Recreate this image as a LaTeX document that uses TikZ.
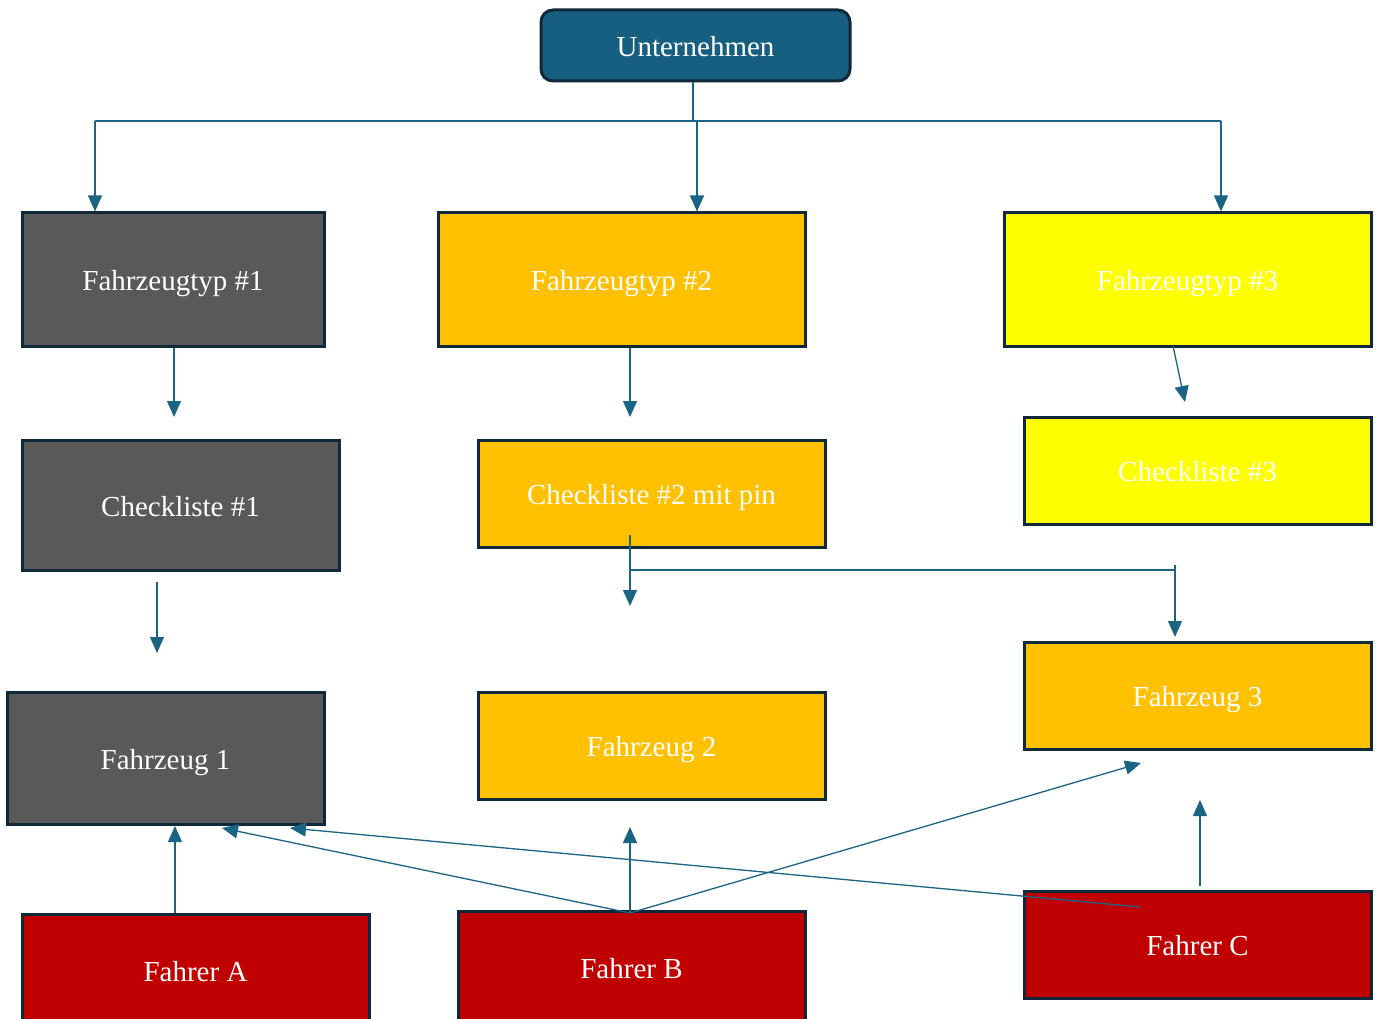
\documentclass[tikz,border=0pt]{standalone}
\usepackage{fontspec}
\setmainfont{Liberation Serif}
\usetikzlibrary{arrows.meta,calc}
\definecolor{cTeal}{HTML}{175F80}
\definecolor{cLine}{HTML}{1C6485}
\definecolor{cBorder}{HTML}{10293A}
\definecolor{cGray}{HTML}{595959}
\definecolor{cOrange}{HTML}{FFC000}
\definecolor{cYellow}{HTML}{FFFF00}
\definecolor{cRed}{HTML}{C00000}
\begin{document}
\begin{tikzpicture}[x=1pt,y=-1pt,
  box/.style={draw=cBorder,line width=3pt,inner sep=0pt,text=white,
    font=\fontsize{29}{34}\selectfont,anchor=center,text height=22pt,text depth=0pt},
  conn/.style={draw=cLine,line width=1.3pt},
  arr/.style={conn,-{Triangle[length=16pt,width=14pt]}}]
\useasboundingbox (0,0) rectangle (1376,1019);
\fill[white] (0,0) rectangle (1376,1019);
% nodes
\node[box,fill=cTeal,rounded corners=12pt,minimum width=309pt,minimum height=71pt] (un) at (695.5,45.5) {Unternehmen};
\node[box,fill=cGray,minimum width=302pt,minimum height=133pt] (ft1) at (173,279.5) {Fahrzeugtyp \#1};
\node[box,fill=cOrange,minimum width=367pt,minimum height=133pt] (ft2) at (621.5,279.5) {Fahrzeugtyp \#2};
\node[box,fill=cYellow,minimum width=367pt,minimum height=133pt] (ft3) at (1187.5,279.5) {Fahrzeugtyp \#3};
\node[box,fill=cGray,minimum width=317pt,minimum height=130pt] (ck1) at (180.5,505) {Checkliste \#1};
\node[box,fill=cOrange,minimum width=347pt,minimum height=107pt] (ck2) at (651.5,493.5) {Checkliste \#2 mit pin};
\node[box,fill=cYellow,minimum width=347pt,minimum height=107pt] (ck3) at (1197.5,470.5) {Checkliste \#3};
\node[box,fill=cGray,minimum width=317pt,minimum height=132pt] (fz1) at (165.5,758) {Fahrzeug 1};
\node[box,fill=cOrange,minimum width=347pt,minimum height=107pt] (fz2) at (651.5,745.5) {Fahrzeug 2};
\node[box,fill=cOrange,minimum width=347pt,minimum height=107pt] (fz3) at (1197.5,695.5) {Fahrzeug 3};
\node[box,fill=cRed,minimum width=347pt,minimum height=112pt] (fa) at (195.5,970) {Fahrer A};
\node[box,fill=cRed,minimum width=347pt,minimum height=112pt] (fb) at (631.5,967) {Fahrer B};
\node[box,fill=cRed,minimum width=347pt,minimum height=107pt] (fc) at (1197.5,944.5) {Fahrer C};
% coordinates
\coordinate (u0) at (693,121);
\coordinate (h1) at (95,121);
\coordinate (h2) at (1221,121);
\coordinate (h3) at (697,121);
\coordinate (a1) at (174,417);
\coordinate (a2) at (630,417);
\coordinate (a3s) at (1173,346);
\coordinate (a3) at (1185,402);
\coordinate (b1s) at (157,582);
\coordinate (b1) at (157,653);
\coordinate (b2s) at (630,535);
\coordinate (b2) at (630,606);
\coordinate (b2h) at (630,570);
\coordinate (b3h) at (1175,570);
\coordinate (b3t) at (1175,565);
\coordinate (b3) at (1175,637);
\coordinate (ca) at (175,826);
\coordinate (cb0) at (630,913);
\coordinate (cb1) at (630,827);
\coordinate (cb2) at (222,828);
\coordinate (cb3) at (1141,763);
\coordinate (cc0) at (1140,907);
\coordinate (cc1) at (290,828);
\coordinate (cc2s) at (1200,886);
\coordinate (cc2) at (1200,800);
% connectors
\draw[conn] (un.south -| u0) -- (u0);
\draw[conn] (h1) -- (h2);
\draw[arr] (h1) -- (h1 |- ft1.north);
\draw[arr] (h3) -- (h3 |- ft2.north);
\draw[arr] (h2) -- (h2 |- ft3.north);
\draw[arr] (ft1.south -| a1) -- (a1);
\draw[arr] (ft2.south -| a2) -- (a2);
\draw[arr] (a3s) -- (a3);
\draw[arr] (b1s) -- (b1);
\draw[arr] (b2s) -- (b2);
\draw[conn] (b2h) -- (b3h);
\draw[arr] (b3t) -- (b3);
\draw[arr] (fa.north -| ca) -- (ca);
\draw[arr] (cb0) -- (cb1);
\draw[arr] (cb0) -- (cb2);
\draw[arr] (cb0) -- (cb3);
\draw[arr] (cc0) -- (cc1);
\draw[arr] (cc2s) -- (cc2);
\end{tikzpicture}
\end{document}
